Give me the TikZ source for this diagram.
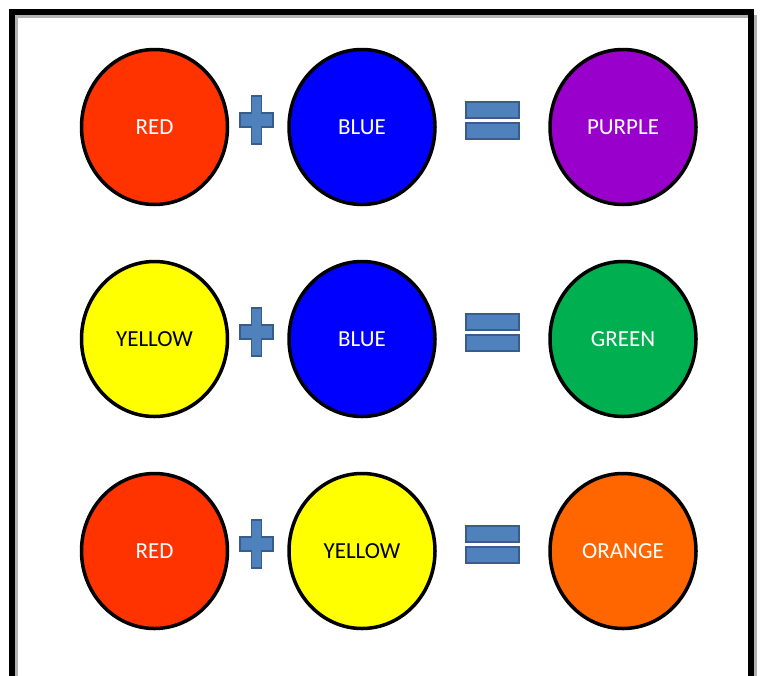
\documentclass[tikz,border=0pt]{standalone}
\usepackage{fontspec}
\setmainfont{Carlito}
\usetikzlibrary{shapes.geometric}
\definecolor{redball}{HTML}{FF3300}
\definecolor{blueball}{HTML}{0000FF}
\definecolor{purpleball}{HTML}{9900CC}
\definecolor{yellowball}{HTML}{FFFF00}
\definecolor{greenball}{HTML}{00B050}
\definecolor{orangeball}{HTML}{FF6600}
\definecolor{signfill}{HTML}{4F81BD}
\definecolor{signline}{HTML}{385D8A}

\begin{document}
\begin{tikzpicture}[
	x=1pt, y=-1pt,
	ball/.style={ellipse, draw=black, line width=3.5pt, minimum width=146pt,
		minimum height=155pt, inner sep=0pt},
	sign/.style={fill=signfill, draw=signline, line width=1.5pt},
	every node/.style={font=\fontsize{23}{27}\selectfont},
]
\useasboundingbox (0,0) rectangle (762,675);
% frame round the whole chart
\draw[gray!60, line width=3pt] (16,16) rectangle (755,690);
\draw[line width=6pt] (12,12) rectangle (751,686);
% #1 fill, #2 text colour, (#3) name, #4 where, #5 label
\def\colorball#1#2(#3)#4#5{
	\node[ball, fill=#1, text=#2] (#3) at (#4) {#5};
}
% plus sign centred at the given point
\def\plussign(#1){
	\path[sign] (#1) ++(-5,-24) -- ++(10,0) -- ++(0,17) -- ++(11.5,0)
		-- ++(0,14) -- ++(-11.5,0) -- ++(0,17) -- ++(-10,0) -- ++(0,-17)
		-- ++(-11.5,0) -- ++(0,-14) -- ++(11.5,0) -- cycle;
}
% equals sign centred at the given point
\def\equalsign(#1){
	\path[sign] (#1) ++(-26,-19) rectangle ++(53,16);
	\path[sign] (#1) ++(-26,2) rectangle ++(53,16);
}
	% first row
	\colorball{redball}{white}(red1){154.5,127}{RED}
	\colorball{blueball}{white}(blue1){362,127}{BLUE}
	\colorball{purpleball}{white}(purple){623,127}{PURPLE}
	\plussign(256.5,120)
	\equalsign(492,121)
	% second row
	\colorball{yellowball}{black}(yellow1){154.5,339}{YELLOW}
	\colorball{blueball}{white}(blue2){362,339}{BLUE}
	\colorball{greenball}{white}(green){623,339}{GREEN}
	\plussign(256.5,332)
	\equalsign(492,333)
	% third row
	\colorball{redball}{white}(red2){154.5,551}{RED}
	\colorball{yellowball}{black}(yellow2){362,551}{YELLOW}
	\colorball{orangeball}{white}(orange){623,551}{ORANGE}
	\plussign(256.5,544)
	\equalsign(492,545)
\end{tikzpicture}
\end{document}
